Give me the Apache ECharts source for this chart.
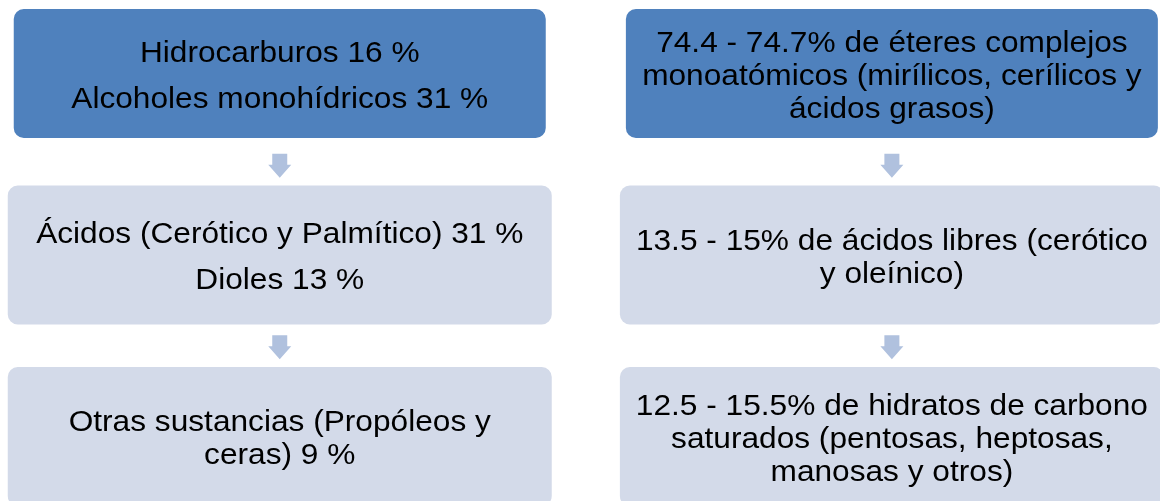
<!DOCTYPE html>
<html>
<head>
<meta charset="utf-8">
<script src="https://cdn.jsdelivr.net/npm/echarts@6/dist/echarts.min.js"></script>
<style>
  html, body { margin: 0; padding: 0; background: #fff; }
  #chart { width: 1160px; height: 501px; }
</style>
</head>
<body>
<div id="chart"></div>
<script>
// columnas y filas del diagrama
const columns = ['izquierda', 'derecha'];
const rows = [0, 1, 2];

// textos de cada caja (cada elemento = un párrafo, \n = salto de línea)
const leftTexts = [
  ['Hidrocarburos 16 %', 'Alcoholes monohídricos 31 %'],
  ['Ácidos (Cerótico y Palmítico) 31 %', 'Dioles 13 %'],
  ['Otras sustancias (Propóleos y\nceras) 9 %']
];
const rightTexts = [
  ['74.4 - 74.7% de éteres complejos\nmonoatómicos (mirílicos, cerílicos y\nácidos grasos)'],
  ['13.5 - 15% de ácidos libres (cerótico\ny oleínico)'],
  ['12.5 - 15.5% de hidratos de carbono\nsaturados (pentosas, heptosas,\nmanosas y otros)']
];

// flechas entre filas
const arrowRows = [0.5, 1.5];

const FONT = '30px "Liberation Sans", Arial, sans-serif';
const LINE_H = 33;
const PARA_GAP = 13;

const boxData = [];
columns.forEach((c, ci) => {
  const texts = ci === 0 ? leftTexts : rightTexts;
  rows.forEach(r => boxData.push([ci, r, texts[r]]));
});
const arrowData = [];
columns.forEach((c, ci) => arrowRows.forEach(r => arrowData.push([ci, r])));

const renderBox = (params, api) => {
  const col = api.value(0);
  const row = api.value(1);
  const paras = boxData[params.dataIndex][2];
  const c = api.coord([col, row]);
  // la fila de arriba es un poco más pequeña
  const w = row === 0 ? 532 : 544;
  const h = row === 0 ? 129 : 139;
  const children = [{
    type: 'rect',
    shape: { x: c[0] - w / 2, y: c[1] - h / 2, width: w, height: h, r: 10 },
    style: { fill: row === 0 ? '#4f81bd' : '#d3dae9' }
  }];

  const counts = paras.map(p => p.split('\n').length);
  const total = counts.reduce((a, b) => a + b, 0) * LINE_H + PARA_GAP * (paras.length - 1);
  let y = c[1] - total / 2 + 3;
  paras.forEach((p, i) => {
    const ph = counts[i] * LINE_H;
    children.push({
      type: 'text',
      x: c[0],
      y: y + ph / 2,
      scaleX: 1.055,
      style: {
        text: p,
        font: FONT,
        fill: '#000',
        lineHeight: LINE_H,
        align: 'center',
        verticalAlign: 'middle'
      }
    });
    y += ph + PARA_GAP;
  });
  return { type: 'group', children };
};

const renderArrow = (params, api) => {
  const c = api.coord([api.value(0), api.value(1)]);
  const x = c[0], y = c[1] + 1.5;
  return {
    type: 'polygon',
    shape: {
      points: [
        [x - 7.5, y - 12], [x + 7.5, y - 12], [x + 7.5, y - 1],
        [x + 11.5, y - 1], [x, y + 12], [x - 11.5, y - 1], [x - 7.5, y - 1]
      ]
    },
    style: { fill: '#b0c1de' }
  };
};

const chart = echarts.init(document.getElementById('chart'));
chart.setOption({
  animation: false,
  grid: { left: 0, right: 0, top: 0, bottom: 0 },
  xAxis: { type: 'value', min: -0.457, max: 1.438, show: false },
  yAxis: { type: 'value', min: -0.405, max: 2.355, inverse: true, show: false },
  series: [
    {
      type: 'custom',
      renderItem: renderBox,
      data: boxData.map(d => [d[0], d[1]])
    },
    {
      type: 'custom',
      renderItem: renderArrow,
      data: arrowData
    }
  ]
});
</script>
</body>
</html>
